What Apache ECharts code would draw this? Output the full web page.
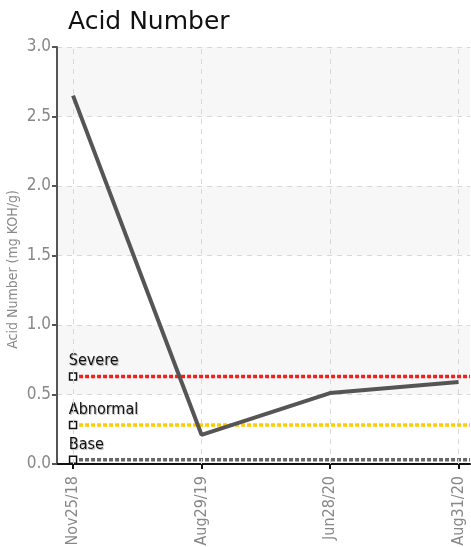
<!DOCTYPE html>
<html><head><meta charset="utf-8">
<script src="https://cdn.jsdelivr.net/npm/echarts@6/dist/echarts.min.js"></script>
<style>html,body{margin:0;padding:0;background:#fff}#c{width:471px;height:547px}</style>
</head><body><div id="c"></div>
<script>
const categories = ['Nov25/18', 'Aug29/19', 'Jun28/20', 'Aug31/20'];
const acidValues = [2.65, 0.21, 0.51, 0.59];
const thresholdNames = ['Severe', 'Abnormal', 'Base'];
const thresholdValues = [0.63, 0.28, 0.03];
const thresholdColors = ['#ff1a1a', '#ffcc00', '#666666'];

const X_MIN = -0.125, X_MAX = 3.09;
const narrow = "'Liberation Sans Narrow', 'DejaVu Sans Condensed', 'Roboto', sans-serif";
const idx = categories.map((c, i) => i);

const series = [
  {
    type: 'line', data: [], silent: true,
    markLine: {
      silent: true, symbol: 'none', label: {show: false},
      lineStyle: {color: '#d8d8d8', type: [5, 5], width: 1},
      data: idx.map(i => ({xAxis: i}))
    }
  },
  {
    type: 'line',
    data: acidValues.map((v, i) => [i, v]),
    showSymbol: false, symbol: 'none',
    lineStyle: {color: '#555555', width: 4},
    z: 5
  }
];
thresholdNames.forEach((n, k) => {
  series.push({
    type: 'line', name: n, z: 4,
    data: [
      {value: [0, thresholdValues[k]], symbol: 'rect', symbolSize: 7,
       label: {show: true, formatter: n, position: [0, -19], align: 'left',
               fontFamily: narrow, fontSize: 16, color: '#111',
               textShadowColor: 'rgba(0,0,0,0.3)', textShadowBlur: 1, textShadowOffsetX: 1, textShadowOffsetY: 1}},
      {value: [X_MAX, thresholdValues[k]], symbol: 'none'}
    ],
    itemStyle: {color: '#fff', borderColor: '#111', borderWidth: 1.5},
    lineStyle: {color: thresholdColors[k], width: 3.5, type: [4, 2]}
  });
});

const chart = echarts.init(document.getElementById('c'));
chart.setOption({
  animation: false,
  title: {text: 'Acid Number', left: 63, top: 5,
          textStyle: {fontFamily: 'DejaVu Sans', fontSize: 25, fontWeight: 'normal', color: '#111'}},
  grid: {left: 57, right: 1, top: 47, bottom: 83, containLabel: false, outerBoundsMode: 'none'},
  xAxis: {
    type: 'value', min: X_MIN, max: X_MAX,
    axisLine: {show: true, onZero: false, lineStyle: {color: '#111', width: 2}},
    axisTick: {show: true, customValues: idx, length: 5, lineStyle: {color: '#111', width: 2}},
    axisLabel: {customValues: idx, rotate: 90, formatter: v => categories[Math.round(v)] || '',
                fontFamily: narrow, fontSize: 16, color: '#888', margin: 12},
    splitLine: {show: false}
  },
  yAxis: {
    type: 'value', min: 0, max: 3, interval: 0.5,
    name: 'Acid Number (mg KOH/g)', nameLocation: 'middle', nameGap: 37, nameMoveOverlap: false,
    nameTextStyle: {fontFamily: narrow, fontSize: 14, color: '#888', padding: [0, 28, 0, 0]},
    axisLine: {show: true, onZero: false, lineStyle: {color: '#555', width: 2}},
    axisTick: {show: true, length: 5, lineStyle: {color: '#555', width: 2}},
    axisLabel: {formatter: v => v.toFixed(1), fontFamily: narrow, fontSize: 17, color: '#888', margin: 6},
    splitLine: {show: true, lineStyle: {color: '#d8d8d8', type: [5, 5], width: 1}},
    splitArea: {show: true, areaStyle: {color: ['#ffffff', '#f7f7f7']}}
  },
  series: series
});
</script></body></html>
